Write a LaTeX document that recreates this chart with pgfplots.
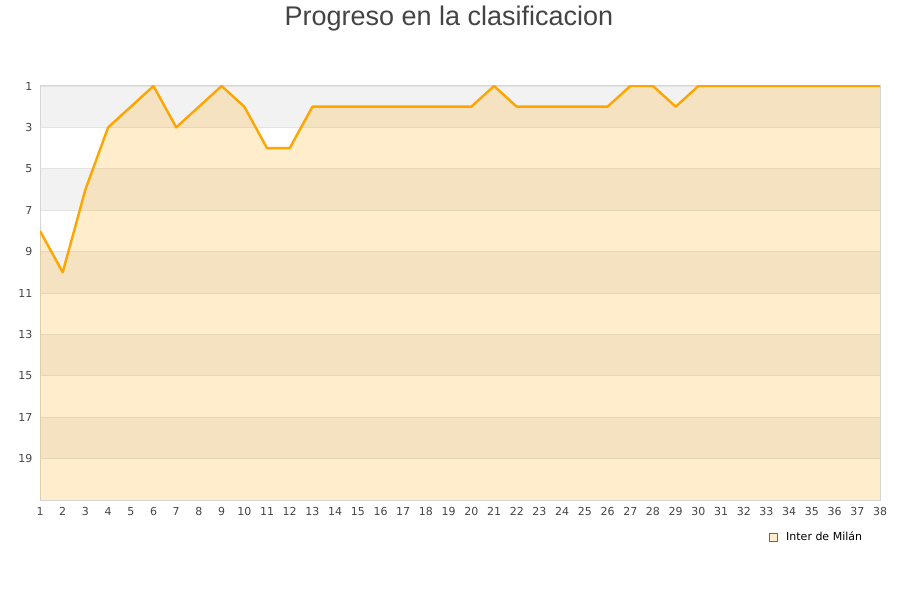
\documentclass[border=0pt]{standalone}
\usepackage{fontspec}
\setmainfont{DejaVu Sans}
\newfontfamily\titlefont{Liberation Sans}
\usepackage{pgfplots}
\pgfplotsset{compat=1.18}
\definecolor{linec}{HTML}{FFA500}
\definecolor{bandgray}{HTML}{F2F2F2}
\definecolor{gridc}{HTML}{E3E3E3}
\definecolor{framec}{HTML}{D6D6D6}
\definecolor{txt}{HTML}{444444}
\definecolor{legfill}{HTML}{FFEDCC}
\begin{document}
\begin{tikzpicture}
\begin{axis}[
  set layers=standard,
  at={(0pt,0pt)}, anchor=south west,
  scale only axis, width=840pt, height=414pt,
  xmin=1, xmax=38, ymin=1, ymax=21,
  y dir=reverse,
  xtick={1,...,38},
  ytick={1,3,...,19},
  /pgf/number format/assume math mode=true,
  major tick length=0pt,
  ymajorgrids, grid style={gridc, line width=0.8pt},
  axis line style={framec, line width=1pt},
  tick label style={font=\fontsize{11}{13}\selectfont, text=txt},
  yticklabel style={xshift=-4pt},
  xticklabel style={yshift=-4pt},
  title={\titlefont\fontsize{27}{30}\selectfont\color{txt}Progreso en la clasificacion},
  title style={at={(axis description cs:0.5,1)}, anchor=center, yshift=61pt, xshift=-11pt},
  legend style={draw=none, fill=none, inner sep=0pt, anchor=west,
    at={(axis description cs:0.8631,-0.0894)}, font=\fontsize{11}{13}\selectfont},
  legend cell align=left,
  legend image code/.code={\path[draw=none, fill=none] (0pt,0pt) rectangle (19pt,0.1pt); \draw[draw=gray!80!black, fill=legfill, line width=0.6pt] (4pt,-4pt) rectangle (12pt,4pt);},
]
\addplot[draw=none, fill=bandgray, on layer=axis background, forget plot] coordinates {(1,1) (38,1) (38,3) (1,3)} -- cycle;
\addplot[draw=none, fill=bandgray, on layer=axis background, forget plot] coordinates {(1,5) (38,5) (38,7) (1,7)} -- cycle;
\addplot[draw=none, fill=bandgray, on layer=axis background, forget plot] coordinates {(1,9) (38,9) (38,11) (1,11)} -- cycle;
\addplot[draw=none, fill=bandgray, on layer=axis background, forget plot] coordinates {(1,13) (38,13) (38,15) (1,15)} -- cycle;
\addplot[draw=none, fill=bandgray, on layer=axis background, forget plot] coordinates {(1,17) (38,17) (38,19) (1,19)} -- cycle;
\addplot[draw=none, fill=linec, fill opacity=0.2, forget plot] coordinates {
(1,21) (1,8) (2,10) (3,6) (4,3) (5,2) (6,1) (7,3) (8,2) (9,1) (10,2)
(11,4) (12,4) (13,2) (14,2) (15,2) (16,2) (17,2) (18,2) (19,2) (20,2)
(21,1) (22,2) (23,2) (24,2) (25,2) (26,2) (27,1) (28,1) (29,2) (30,1)
(31,1) (32,1) (33,1) (34,1) (35,1) (36,1) (37,1) (38,1) (38,21)} -- cycle;
\addplot[linec, line width=2.4pt, line join=round, mark=none] coordinates {
(1,8) (2,10) (3,6) (4,3) (5,2) (6,1) (7,3) (8,2) (9,1) (10,2)
(11,4) (12,4) (13,2) (14,2) (15,2) (16,2) (17,2) (18,2) (19,2) (20,2)
(21,1) (22,2) (23,2) (24,2) (25,2) (26,2) (27,1) (28,1) (29,2) (30,1)
(31,1) (32,1) (33,1) (34,1) (35,1) (36,1) (37,1) (38,1)};
\addlegendentry{Inter de Milán}
\node[rotate=90, font=\fontsize{10}{12}\selectfont, text=txt] at ([xshift=-30pt]axis description cs:0,0.5) {Posicion};
\end{axis}
\pgfresetboundingbox
\path[use as bounding box] (-40pt,-100pt) rectangle (860pt,500pt);
\end{tikzpicture}
\end{document}
